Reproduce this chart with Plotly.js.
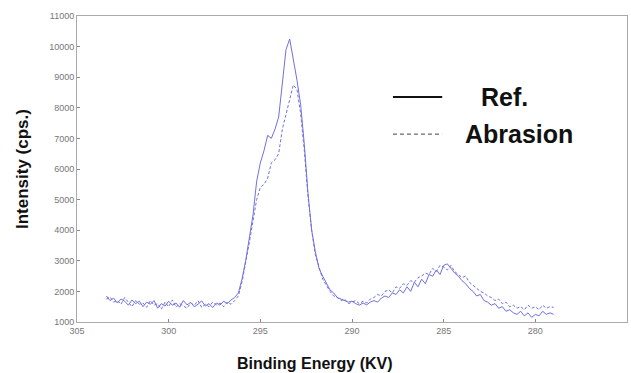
<!DOCTYPE html>
<html>
<head>
<meta charset="utf-8">
<script src="https://cdn.plot.ly/plotly-3.0.1.min.js"></script>
<style>html,body{margin:0;padding:0;background:#fff;}#chart{width:631px;height:373px;}</style>
</head>
<body>
<div id="chart"></div>
<script>
// Binding energy grid (eV)
var energy = [303.4,303.2,303.0,302.8,302.6,302.4,302.2,302.0,301.8,301.6,
301.4,301.2,301.0,300.8,300.6,300.4,300.2,300.0,299.8,299.6,
299.4,299.2,299.0,298.8,298.6,298.4,298.2,298.0,297.8,297.6,
297.4,297.2,297.0,296.8,296.6,296.4,296.2,296.0,295.8,295.6,
295.4,295.2,295.0,294.8,294.6,294.4,294.2,294.0,293.8,293.6,
293.4,293.2,293.0,292.8,292.6,292.4,292.2,292.0,291.8,291.6,
291.4,291.2,291.0,290.8,290.6,290.4,290.2,290.0,289.8,289.6,
289.4,289.2,289.0,288.8,288.6,288.4,288.2,288.0,287.8,287.6,
287.4,287.2,287.0,286.8,286.6,286.4,286.2,286.0,285.8,285.6,
285.4,285.2,285.0,284.8,284.6,284.4,284.2,284.0,283.8,283.6,
283.4,283.2,283.0,282.8,282.6,282.4,282.2,282.0,281.8,281.6,
281.4,281.2,281.0,280.8,280.6,280.4,280.2,280.0,279.8,279.6,
279.4,279.2,279.0];

// Ref. (solid)
var refIntensity = [1850,1700,1780,1620,1750,1680,1550,1720,1600,1680,
1500,1650,1580,1700,1450,1600,1520,1680,1550,1620,
1480,1700,1560,1640,1500,1580,1690,1520,1600,1470,
1620,1550,1680,1600,1720,1800,1950,2400,3000,3800,
4500,5600,6200,6600,7100,7000,7300,7700,8700,9900,
10250,9600,8900,8100,6800,5200,4000,3300,2750,2500,
2250,2050,1950,1800,1750,1700,1650,1680,1600,1550,
1620,1560,1650,1700,1650,1780,1850,1800,1950,1900,
2050,1950,2150,2000,2300,2150,2400,2250,2550,2500,
2700,2550,2850,2900,2750,2600,2500,2350,2250,2100,
2000,1850,1900,1700,1650,1550,1600,1450,1500,1350,
1400,1300,1250,1350,1200,1300,1150,1250,1200,1350,
1250,1300,1250];

// Abrasion (dashed)
var abrasionIntensity = [1750,1820,1650,1700,1580,1800,1650,1500,1700,1580,
1620,1480,1700,1550,1600,1420,1650,1500,1720,1480,
1600,1520,1450,1620,1550,1700,1480,1580,1500,1650,
1560,1620,1500,1650,1580,1700,1850,2300,2900,3600,
4300,5000,5400,5500,5700,6200,6300,6500,7300,7800,
8300,8750,8600,7800,6600,5100,4000,3200,2800,2400,
2200,2000,1850,1800,1700,1750,1600,1650,1700,1600,
1680,1620,1750,1800,1900,1850,2000,2050,1950,2150,
2100,2250,2200,2350,2300,2450,2500,2600,2550,2750,
2650,2850,2800,2700,2850,2650,2550,2450,2500,2300,
2200,2100,2000,1950,1850,1800,1700,1750,1600,1650,
1500,1550,1450,1500,1400,1550,1450,1500,1400,1550,
1450,1500,1480];

var xTicks = [305,300,295,290,285,280,275];
var yTicks = [1000,2000,3000,4000,5000,6000,7000,8000,9000,10000,11000];
var legendLabels = ["Ref.", "Abrasion"];
var xTitle = "Binding Energy (KV)";
var yTitle = "Intensity (cps.)";

var lineColor = "rgb(112,112,222)";

var traces = [
  {x: energy, y: refIntensity, mode: "lines", name: legendLabels[0],
   line: {color: lineColor, width: 1}, showlegend: false, hoverinfo: "skip"},
  {x: energy, y: abrasionIntensity, mode: "lines", name: legendLabels[1],
   line: {color: lineColor, width: 1, dash: "3px,2px"}, showlegend: false, hoverinfo: "skip"}
];

var tickFont = {family: "Arial, Liberation Sans, sans-serif", size: 9, color: "#777"};
var xTitleFont = {family: "Arial, Liberation Sans, sans-serif", size: 16, color: "#111", weight: "bold"};
var yTitleFont = {family: "Arial, Liberation Sans, sans-serif", size: 17, color: "#111", weight: "bold"};
var legFont = {family: "Arial, Liberation Sans, sans-serif", size: 25, color: "#111", weight: "bold"};

var layout = {
  width: 631, height: 373,
  margin: {l: 77, r: 4, t: 16, b: 51},
  paper_bgcolor: "#fff", plot_bgcolor: "#fff",
  showlegend: false,
  xaxis: {
    range: [305, 275], tickvals: xTicks, ticktext: xTicks.map(String),
    ticks: "inside", ticklen: 3, tickcolor: "#888",
    showline: true, linecolor: "#aaa", linewidth: 1, mirror: true,
    showgrid: false, zeroline: false, tickfont: tickFont
  },
  yaxis: {
    range: [1000, 11000], tickvals: yTicks, ticktext: yTicks.map(String),
    ticks: "inside", ticklen: 3, tickcolor: "#888",
    showline: true, linecolor: "#aaa", linewidth: 1, mirror: true,
    showgrid: false, zeroline: false, tickfont: tickFont
  },
  shapes: [
    {type: "line", xref: "paper", yref: "paper", x0: 0.5745, x1: 0.664, y0: 0.735, y1: 0.735,
     line: {color: "#111", width: 2}},
    {type: "line", xref: "paper", yref: "paper", x0: 0.5745, x1: 0.664, y0: 0.614, y1: 0.614,
     line: {color: "#444", width: 1, dash: "4px,3px"}}
  ],
  annotations: [
    {text: legendLabels[0], xref: "paper", yref: "paper", x: 0.777, y: 0.735,
     xanchor: "center", yanchor: "middle", showarrow: false, font: legFont},
    {text: legendLabels[1], xref: "paper", yref: "paper", x: 0.8036, y: 0.614,
     xanchor: "center", yanchor: "middle", showarrow: false, font: legFont},
    {text: xTitle, xref: "paper", yref: "paper", x: 0.433, y: -0.134,
     xanchor: "center", yanchor: "middle", showarrow: false, font: xTitleFont},
    {text: yTitle, xref: "paper", yref: "paper", x: -0.1, y: 0.5,
     xanchor: "center", yanchor: "middle", textangle: -90, showarrow: false, font: yTitleFont}
  ]
};

Plotly.newPlot("chart", traces, layout, {staticPlot: true, displayModeBar: false});
</script>
</body>
</html>
